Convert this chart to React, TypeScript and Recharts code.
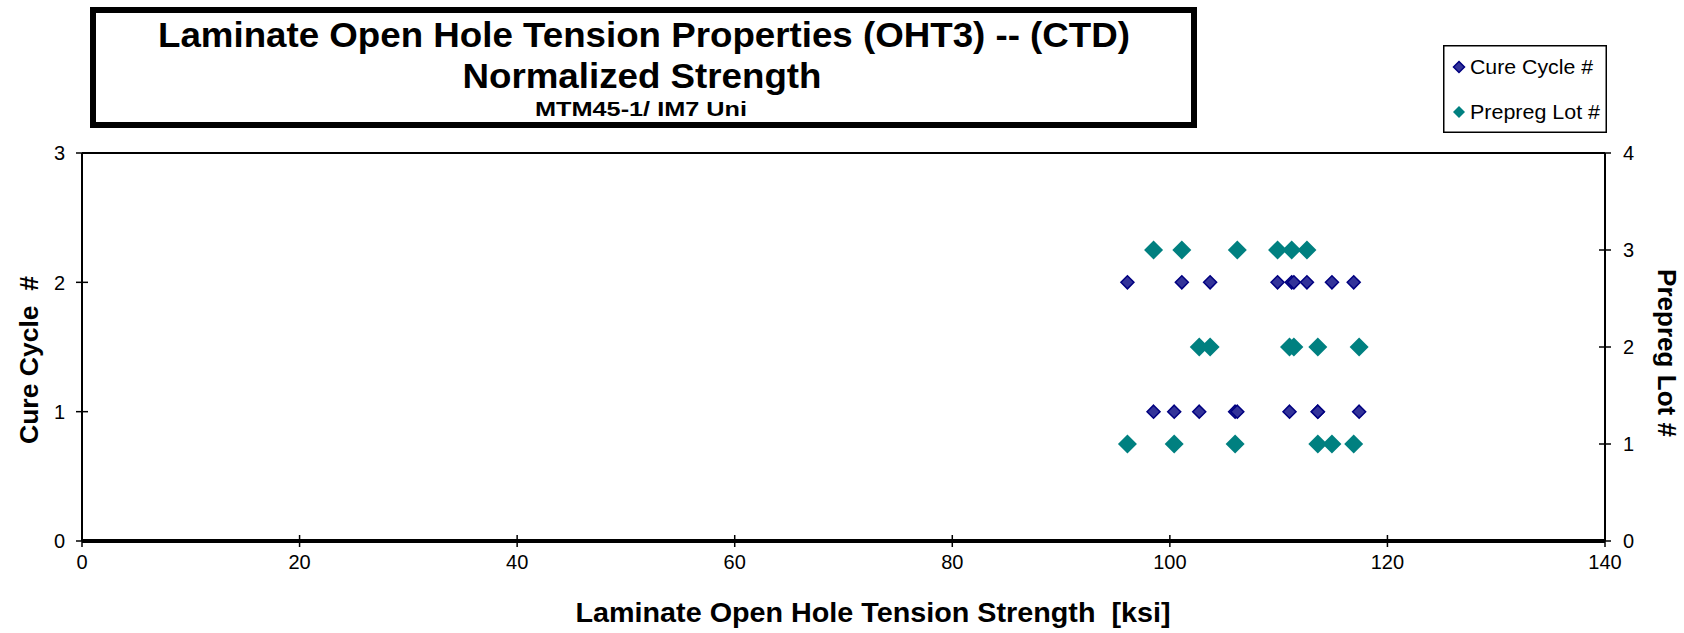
import React from "react";
import { ScatterChart, Scatter, XAxis, YAxis, Legend, ReferenceLine } from "recharts";

const FONT = '"Liberation Sans", Arial, sans-serif';

// axis ticks
const strengthTicks = [0, 20, 40, 60, 80, 100, 120, 140];
const cureCycleTicks = [0, 1, 2, 3];
const prepregLotTicks = [0, 1, 2, 3, 4];

// open hole tension strength [ksi] for each cure cycle
const cureCycle1 = [98.5, 100.4, 102.7, 106.0, 106.2, 111.0, 113.6, 113.6, 117.4];
const cureCycle2 = [96.1, 101.1, 103.7, 109.9, 111.2, 111.4, 112.6, 114.9, 116.9];

// same specimens grouped by prepreg lot
const prepregLot1 = [96.1, 100.4, 106.0, 113.6, 114.9, 116.9];
const prepregLot2 = [102.7, 103.7, 111.0, 111.4, 113.6, 117.4];
const prepregLot3 = [98.5, 101.1, 106.2, 109.9, 111.2, 112.6];

const cureData = [
  ...cureCycle1.map((x) => ({ x, y: 1 })),
  ...cureCycle2.map((x) => ({ x, y: 2 })),
];
const lotData = [
  ...prepregLot1.map((x) => ({ x, y: 1 })),
  ...prepregLot2.map((x) => ({ x, y: 2 })),
  ...prepregLot3.map((x) => ({ x, y: 3 })),
];

const CURE_FILL = "#333399";
const CURE_STROKE = "#000080";
const LOT_FILL = "#008080";

const diamond = (r: number, fill: string, stroke?: string) => (props: any) => {
  const { cx, cy } = props;
  if (cx == null || cy == null) return <g />;
  return (
    <polygon
      points={`${cx},${cy - r} ${cx + r},${cy} ${cx},${cy + r} ${cx - r},${cy}`}
      fill={fill}
      stroke={stroke || "none"}
      strokeWidth={stroke ? 1.5 : 0}
    />
  );
};

// ticks cross the axis line, like the Excel original
const XTick = (props: any) => {
  const { x, y, payload } = props;
  const axisY = y - 14;
  return (
    <g>
      <line x1={x} x2={x} y1={axisY - 6} y2={axisY + 6} stroke="#000" strokeWidth={1.5} />
      <text x={x} y={y} dy="0.71em" textAnchor="middle" fontSize={20} fontFamily={FONT} fill="#000">
        {payload.value}
      </text>
    </g>
  );
};

const LeftTick = (props: any) => {
  const { x, y, payload } = props;
  const axisX = x + 17;
  return (
    <g>
      <line x1={axisX - 6} x2={axisX + 6} y1={y} y2={y} stroke="#000" strokeWidth={1.5} />
      <text x={x} y={y} dy="0.36em" textAnchor="end" fontSize={20} fontFamily={FONT} fill="#000">
        {payload.value}
      </text>
    </g>
  );
};

const RightTick = (props: any) => {
  const { x, y, payload } = props;
  const axisX = x - 18;
  return (
    <g>
      <line x1={axisX - 6} x2={axisX + 6} y1={y} y2={y} stroke="#000" strokeWidth={1.5} />
      <text x={x} y={y} dy="0.36em" textAnchor="start" fontSize={20} fontFamily={FONT} fill="#000">
        {payload.value}
      </text>
    </g>
  );
};

const LegendBox = () => (
  <svg width={164} height={88}>
    <rect x={0.75} y={0.75} width={162.5} height={86.5} fill="#fff" stroke="#000" strokeWidth={1.5} />
    <polygon points="16,16.5 21.5,22 16,27.5 10.5,22" fill={CURE_FILL} stroke={CURE_STROKE} strokeWidth={1.5} />
    <text x={27} y={29} fontSize={21} fontFamily={FONT} textLength={123} lengthAdjust="spacingAndGlyphs">
      Cure Cycle #
    </text>
    <polygon points="16,61 22,67 16,73 10,67" fill={LOT_FILL} />
    <text x={27} y={74} fontSize={21} fontFamily={FONT} textLength={130} lengthAdjust="spacingAndGlyphs">
      Prepreg Lot #
    </text>
  </svg>
);

export default function App() {
  return (
    <div style={{ position: "absolute", left: 0, top: 0, width: 1684, height: 633, background: "#fff" }}>
      <ScatterChart width={1684} height={633} margin={{ top: 153, right: 17, bottom: 32, left: 20 }}>
        <XAxis
          type="number"
          dataKey="x"
          domain={[0, 140]}
          ticks={strengthTicks}
          interval={0}
          height={60}
          tickSize={6}
          tickMargin={8}
          tickLine={false}
          tick={<XTick />}
          axisLine={{ stroke: "#000", strokeWidth: 4 }}
        />
        <YAxis
          yAxisId="left"
          type="number"
          dataKey="y"
          domain={[0, 3]}
          ticks={cureCycleTicks}
          interval={0}
          width={62}
          tickSize={6}
          tickMargin={11}
          tickLine={false}
          tick={<LeftTick />}
          axisLine={{ stroke: "#000", strokeWidth: 2 }}
        />
        <YAxis
          yAxisId="right"
          orientation="right"
          type="number"
          dataKey="y"
          domain={[0, 4]}
          ticks={prepregLotTicks}
          interval={0}
          width={62}
          tickSize={6}
          tickMargin={12}
          tickLine={false}
          tick={<RightTick />}
          axisLine={{ stroke: "#000", strokeWidth: 2 }}
        />
        <ReferenceLine yAxisId="left" y={3} stroke="#000" strokeWidth={2} />
        <Legend
          layout="horizontal"
          verticalAlign="middle"
          align="center"
          wrapperStyle={{ left: 1443, top: 45, width: 164, height: 88 }}
          content={<LegendBox />}
        />
        <Scatter
          name="Prepreg Lot #"
          yAxisId="right"
          data={lotData}
          fill={LOT_FILL}
          shape={diamond(9.5, LOT_FILL)}
          isAnimationActive={false}
        />
        <Scatter
          name="Cure Cycle #"
          yAxisId="left"
          data={cureData}
          fill={CURE_FILL}
          shape={diamond(6.5, CURE_FILL, CURE_STROKE)}
          isAnimationActive={false}
        />
      </ScatterChart>
      <svg
        width={1684}
        height={633}
        style={{ position: "absolute", left: 0, top: 0, pointerEvents: "none" }}
        fontFamily={FONT}
        fontWeight="bold"
      >
        <rect x={93} y={10} width={1101} height={115} fill="none" stroke="#000" strokeWidth={6} />
        <text x={644} y={47} fontSize={35} textAnchor="middle" textLength={972} lengthAdjust="spacingAndGlyphs">
          Laminate Open Hole Tension Properties (OHT3) -- (CTD)
        </text>
        <text x={642} y={88} fontSize={35} textAnchor="middle" textLength={359} lengthAdjust="spacingAndGlyphs">
          Normalized Strength
        </text>
        <text x={641} y={116} fontSize={21} textAnchor="middle" textLength={212} lengthAdjust="spacingAndGlyphs">
          MTM45-1/ IM7 Uni
        </text>
        <text x={873} y={622} fontSize={27} textAnchor="middle" textLength={595} lengthAdjust="spacingAndGlyphs">
          Laminate Open Hole Tension Strength&#160;&#160;[ksi]
        </text>
        <text
          transform="translate(38,360) rotate(-90)"
          fontSize={25}
          textAnchor="middle"
          textLength={168}
          lengthAdjust="spacingAndGlyphs"
        >
          Cure Cycle&#160;&#160;#
        </text>
        <text
          transform="translate(1658,353) rotate(90)"
          fontSize={25}
          textAnchor="middle"
          textLength={168}
          lengthAdjust="spacingAndGlyphs"
        >
          Prepreg Lot #
        </text>
      </svg>
    </div>
  );
}
